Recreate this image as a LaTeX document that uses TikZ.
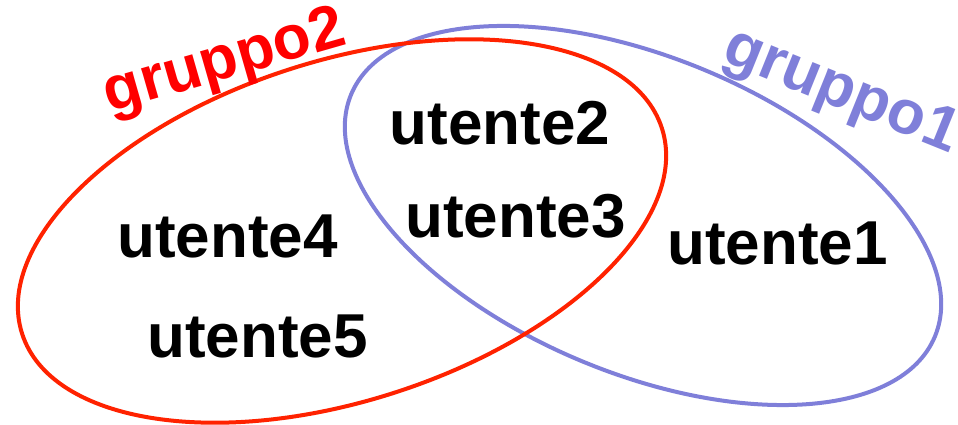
\documentclass[tikz,border=0pt]{standalone}
\usepackage{fontspec}
\setmainfont{Liberation Sans}

\begin{document}
\begin{tikzpicture}[x=1pt,y=1pt]
  \definecolor{myred}{HTML}{FF2200}
  \definecolor{myblue}{HTML}{7F7FD9}
  \tikzstyle{every node}=[font=\fontsize{62}{70}\selectfont\bfseries, inner sep=0pt, anchor=base]
  \tikzstyle{group line}=[line width=4pt]
  \useasboundingbox (0,0) rectangle (958,425);

  % the two groups
  \draw[group line, myblue, rotate around={-22.5:(643,209.5)}] (643,209.5) ellipse (316 and 158);
  \draw[group line, myred, rotate around={17.8:(342,194)}] (342,194) ellipse (336 and 170);

  \node[red, rotate=16] (g2) at (229,347) {gruppo2};
  \node[myblue, rotate=-22] (g1) at (835,318.5) {gruppo1};

  % users
  \node (u2) at (500,280) {utente2};
  \node (u3) at (515.5,187) {utente3};
  \node (u4) at (227.5,167) {utente4};
  \node (u5) at (257.5,67) {utente5};
  \node (u1) at (777.5,160) {utente1};
\end{tikzpicture}
\end{document}
